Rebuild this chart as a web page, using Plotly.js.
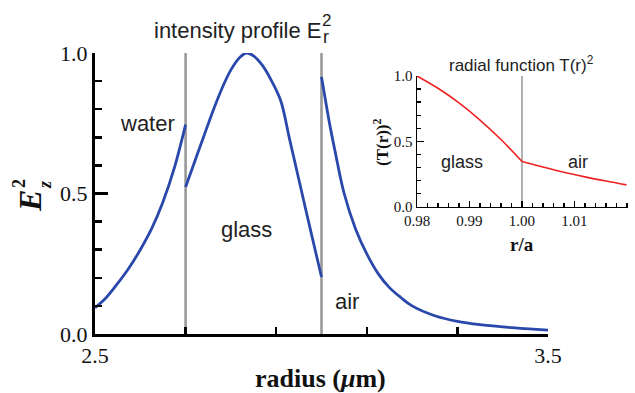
<!DOCTYPE html>
<html>
<head>
<meta charset="utf-8">
<script src="https://cdn.plot.ly/plotly-3.0.1.min.js"></script>
<style>html,body{margin:0;padding:0;background:#fff;}#chart{width:635px;height:393px;}</style>
</head>
<body>
<div id="chart"></div>
<script>
// ---- main plot data: intensity profile E_z^2 vs radius (um) ----
const waterR = [2.5, 2.525, 2.55, 2.575, 2.6, 2.625, 2.65, 2.675, 2.7];
const waterE = [0.093, 0.13, 0.18, 0.235, 0.30, 0.375, 0.47, 0.59, 0.745];
const glassR = [2.7, 2.72, 2.74, 2.76, 2.78, 2.8, 2.82, 2.835, 2.85, 2.87, 2.89, 2.91, 2.93, 2.95, 2.975, 3.0];
const glassE = [0.523, 0.613, 0.703, 0.792, 0.873, 0.94, 0.985, 1.0, 0.99, 0.955, 0.90, 0.83, 0.69, 0.55, 0.375, 0.203];
const airR = [3.0, 3.01, 3.02, 3.03, 3.05, 3.075, 3.1, 3.125, 3.15, 3.175, 3.2, 3.25, 3.3, 3.35, 3.4, 3.45, 3.5];
const airE = [0.915, 0.82, 0.73, 0.65, 0.50, 0.375, 0.285, 0.215, 0.165, 0.13, 0.10, 0.065, 0.045, 0.033, 0.025, 0.019, 0.014];
const boundaries = [2.7, 3.0];
const mainXTicks = [2.5, 3.5];
const mainXTickText = ['2.5', '3.5'];
const mainYTicks = [0, 0.5, 1.0];
const mainYTickText = ['0.0', '0.5', '1.0'];

// ---- inset data: radial function T(r)^2 vs r/a ----
const insetGlassX = [0.98, 0.984, 0.988, 0.992, 0.996, 1.0];
const insetGlassY = [1.0, 0.906, 0.794, 0.663, 0.514, 0.346];
const insetAirX = [1.0, 1.004, 1.008, 1.012, 1.016, 1.0199];
const insetAirY = [0.346, 0.303, 0.263, 0.228, 0.196, 0.167];
const insetBoundary = [1.0];
const insetXTicks = [0.98, 0.99, 1.00, 1.01];
const insetXTickText = ['0.98', '0.99', '1.00', '1.01'];
const insetYTicks = [0, 0.5, 1.0];
const insetYTickText = ['0.0', '0.5', '1.0'];

const W = 635, H = 393;
const px = v => v / W;
const py = v => 1 - v / H;
const SERIF = 'Liberation Serif';
const SANS = 'Liberation Sans';
const BLUE = '#2a48ab';

const blueLine = {color: BLUE, width: 2.8, shape: 'spline', smoothing: 1};
const redLine = {color: '#ee2222', width: 1.6, shape: 'spline', smoothing: 1};

const data = [
  {x: waterR, y: waterE, type: 'scatter', mode: 'lines', line: blueLine, xaxis: 'x', yaxis: 'y', hoverinfo: 'skip'},
  {x: glassR, y: glassE, type: 'scatter', mode: 'lines', line: blueLine, xaxis: 'x', yaxis: 'y', hoverinfo: 'skip'},
  {x: airR, y: airE, type: 'scatter', mode: 'lines', line: blueLine, xaxis: 'x', yaxis: 'y', hoverinfo: 'skip'},
  {x: insetGlassX, y: insetGlassY, type: 'scatter', mode: 'lines', line: redLine, xaxis: 'x2', yaxis: 'y2', hoverinfo: 'skip'},
  {x: insetAirX, y: insetAirY, type: 'scatter', mode: 'lines', line: redLine, xaxis: 'x2', yaxis: 'y2', hoverinfo: 'skip'}
];

const shapes = [];
boundaries.forEach(b => shapes.push({type: 'line', xref: 'x', yref: 'y', x0: b, x1: b, y0: 0, y1: 1, layer: 'below', line: {color: '#999999', width: 2.6}}));
insetBoundary.forEach(b => shapes.push({type: 'line', xref: 'x2', yref: 'y2', x0: b, x1: b, y0: 0, y1: 1, layer: 'below', line: {color: '#999999', width: 1.5}}));

function ann(text, x, y, size, opts) {
  return Object.assign({text: text, x: px(x), y: py(y), xref: 'paper', yref: 'paper', showarrow: false,
    xanchor: 'center', yanchor: 'middle', font: {family: SANS, size: size, color: '#222'}}, opts || {});
}

const annotations = [
  ann('intensity profile E', 152, 30, 22, {xanchor: 'left'}),
  ann('2', 326, 21, 17),
  ann('r', 326, 37, 18),
  ann('water', 147, 124, 22),
  ann('glass', 246, 229, 22),
  ann('air', 347, 301, 22),
  ann('glass', 462, 162, 18),
  ann('air', 578, 162, 18),
  ann('radial function T(r)<sup>2</sup>', 447, 64, 17, {xanchor: 'left'}),
  ann('r/a', 522, 244, 19, {font: {family: SERIF, size: 19, color: '#111', weight: 'bold'}}),
  ann('(T(r))<sup>2</sup>', 381, 142, 17, {textangle: -90, font: {family: SERIF, size: 17, color: '#111', weight: 'bold'}}),
  ann('radius (<i>μ</i>m)', 320, 378, 26, {font: {family: SERIF, size: 26, color: '#111', weight: 'bold'}}),
  ann('E', 30, 201, 32, {textangle: -90, font: {family: SERIF, size: 32, color: '#111', weight: 'bold', style: 'italic'}}),
  ann('2', 19, 184, 18, {textangle: -90, font: {family: SERIF, size: 18, color: '#111', weight: 'bold'}}),
  ann('z', 45, 185, 18, {textangle: -90, font: {family: SERIF, size: 18, color: '#111', weight: 'bold', style: 'italic'}})
];

const layout = {
  width: W, height: H,
  margin: {l: 0, r: 0, t: 0, b: 0},
  paper_bgcolor: '#fff', plot_bgcolor: 'rgba(0,0,0,0)',
  font: {family: SERIF, color: '#111'},
  showlegend: false,
  xaxis: {
    domain: [95 / W, 548 / W], range: [2.5, 3.5], anchor: 'y',
    showgrid: false, zeroline: false, showline: true, linecolor: '#000', linewidth: 3,
    tickmode: 'array', tickvals: mainXTicks, ticktext: mainXTickText,
    ticks: 'inside', ticklen: 12, tickwidth: 2.5, tickcolor: '#000',
    minor: {tick0: 2.5, dtick: 0.2, ticks: 'inside', ticklen: 7, tickwidth: 2.5, tickcolor: '#000', showgrid: false},
    tickfont: {family: SERIF, size: 22, color: '#111'}
  },
  yaxis: {
    domain: [1 - 334 / H, 1 - 53 / H], range: [0, 1], anchor: 'x',
    showgrid: false, zeroline: false, showline: true, linecolor: '#000', linewidth: 3,
    tickmode: 'array', tickvals: mainYTicks, ticktext: mainYTickText,
    ticks: 'inside', ticklen: 13, tickwidth: 2.5, tickcolor: '#000',
    minor: {tick0: 0, dtick: 0.1, ticks: 'inside', ticklen: 7, tickwidth: 2.5, tickcolor: '#000', showgrid: false},
    tickfont: {family: SERIF, size: 22, color: '#111'}
  },
  xaxis2: {
    domain: [417 / W, 628 / W], range: [0.98, 1.0202], anchor: 'y2',
    showgrid: false, zeroline: false, showline: true, linecolor: '#000', linewidth: 1.5,
    tickmode: 'array', tickvals: insetXTicks, ticktext: insetXTickText,
    ticks: 'inside', ticklen: 6, tickwidth: 1.3, tickcolor: '#000',
    minor: {tick0: 0.98, dtick: 0.002, ticks: 'inside', ticklen: 3.5, tickwidth: 1.3, tickcolor: '#000', showgrid: false},
    tickfont: {family: SERIF, size: 15, color: '#111'}
  },
  yaxis2: {
    domain: [1 - 206.7 / H, 1 - 76 / H], range: [0, 1], anchor: 'x2',
    showgrid: false, zeroline: false, showline: true, linecolor: '#000', linewidth: 1.5,
    tickmode: 'array', tickvals: insetYTicks, ticktext: insetYTickText,
    ticks: 'inside', ticklen: 7, tickwidth: 1.3, tickcolor: '#000',
    minor: {tick0: 0, dtick: 0.1, ticks: 'inside', ticklen: 3.5, tickwidth: 1.3, tickcolor: '#000', showgrid: false},
    tickfont: {family: SERIF, size: 15, color: '#111'}
  },
  shapes: shapes,
  annotations: annotations
};

Plotly.newPlot('chart', data, layout, {staticPlot: true, displayModeBar: false});
</script>
</body>
</html>
